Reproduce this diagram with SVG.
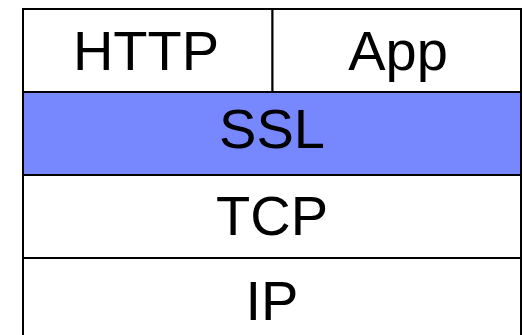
<svg xmlns="http://www.w3.org/2000/svg" width="523" height="335" viewBox="0 0 523 335">
<style>
.cell{fill:#ffffff;stroke:#000;stroke-width:2}
.ssl{fill:#7788ff;stroke:#000;stroke-width:2}
.lbl{font-family:"Liberation Sans",Arial,sans-serif;font-size:56px;fill:#000;text-anchor:middle}
</style>
<rect width="523" height="335" fill="#ffffff"/>
<g id="http">
<rect class="cell" x="23" y="9" width="249.5" height="83"/>
<text class="lbl" x="146" y="70">HTTP</text>
</g>
<g id="app">
<rect class="cell" x="272.5" y="9" width="248.5" height="83"/>
<text class="lbl" x="398" y="70">App</text>
</g>
<g id="ssl">
<rect class="ssl" x="23" y="92" width="498" height="83"/>
<text class="lbl" x="272" y="148">SSL</text>
</g>
<g id="tcp">
<rect class="cell" x="23" y="175" width="498" height="83"/>
<text class="lbl" x="272" y="235">TCP</text>
</g>
<g id="ip">
<rect class="cell" x="23" y="258" width="498" height="80"/>
<text class="lbl" x="272" y="320">IP</text>
</g>
<g id="connectors"></g>
</svg>
